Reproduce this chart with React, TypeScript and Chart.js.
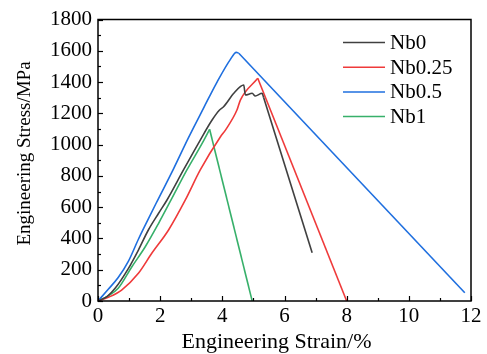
import React, { useEffect, useRef } from "react";
import { Chart, registerables } from "chart.js";

Chart.register(...registerables);

// ---- Data (strain %, stress MPa) ----
const seriesNames = ["Nb0", "Nb0.25", "Nb0.5", "Nb1"];
const seriesColors = ["#404040", "#ef3a3a", "#1f6fdf", "#37b06a"];

const nb0Strain = [0, 0.3, 0.55, 0.98, 1.3, 1.62, 1.95, 2.22, 2.75, 3.29, 3.67, 3.91, 4.04, 4.37, 4.69, 4.74, 4.96, 5.06, 5.28, 5.33, 6.89];
const nb0Stress = [0, 30, 81, 209, 326, 454, 561, 646, 838, 1029, 1157, 1221, 1242, 1328, 1381, 1317, 1328, 1311, 1328, 1300, 309];

const nb025Strain = [0, 0.35, 0.76, 1.3, 1.73, 2.27, 2.81, 3.29, 3.94, 4.1, 4.47, 4.58, 5.14, 8.0];
const nb025Stress = [0, 25, 70, 177, 305, 454, 646, 838, 1050, 1093, 1221, 1285, 1424, 0];

const nb05Strain = [0, 0.33, 0.65, 0.98, 1.3, 1.62, 1.87, 2.43, 2.9, 3.4, 3.83, 4.26, 4.45, 4.53, 11.8];
const nb05Stress = [0, 75, 150, 255, 395, 525, 625, 845, 1040, 1235, 1400, 1545, 1590, 1584, 53];

const nb1Strain = [0, 0.3, 0.65, 1.09, 1.52, 1.95, 2.35, 2.86, 3.35, 3.59, 4.96];
const nb1Stress = [0, 30, 81, 219, 347, 497, 646, 838, 1008, 1098, 0];

const xMin = 0, xMax = 12, xStep = 2, xMinorStep = 1;
const yMin = 0, yMax = 1800, yStep = 200, yMinorStep = 100;
const xTitle = "Engineering Strain/%";
const yTitle = "Engineering Stress/MPa";

const FONT = "'Liberation Serif', 'Times New Roman', serif";
Chart.defaults.font.family = FONT;

function pts(xs: number[], ys: number[]) {
  return xs.map((x, i) => ({ x, y: ys[i] }));
}

const framePlugin = {
  id: "frameTicksLegend",
  afterDraw(chart: any) {
    const { ctx, chartArea } = chart;
    const xs = chart.scales.x;
    const ys = chart.scales.y;
    const { left, right, top, bottom } = chartArea;
    ctx.save();
    ctx.strokeStyle = "#000";
    ctx.lineWidth = 1.5;
    ctx.strokeRect(left, top, right - left, bottom - top);
    ctx.lineWidth = 1.2;
    for (let v = xMin; v <= xMax + 1e-9; v += xMinorStep) {
      const px = Math.round(xs.getPixelForValue(v)) + 0.5;
      const major = Math.abs(v / xStep - Math.round(v / xStep)) < 1e-6;
      const len = major ? 5 : 3;
      ctx.beginPath();
      ctx.moveTo(px, bottom);
      ctx.lineTo(px, bottom - len);
      ctx.stroke();
    }
    for (let v = yMin; v <= yMax + 1e-9; v += yMinorStep) {
      const py = Math.round(ys.getPixelForValue(v)) + 0.5;
      const major = Math.abs(v / yStep - Math.round(v / yStep)) < 1e-6;
      const len = major ? 5 : 3;
      ctx.beginPath();
      ctx.moveTo(left, py);
      ctx.lineTo(left + len, py);
      ctx.stroke();
    }
    // axis titles
    ctx.fillStyle = "#000";
    ctx.textAlign = "center";
    ctx.textBaseline = "alphabetic";
    ctx.font = `22px ${FONT}`;
    ctx.fillText(xTitle, 276.5, 348);
    ctx.save();
    ctx.translate(30, 153.5);
    ctx.rotate(-Math.PI / 2);
    ctx.font = `19px ${FONT}`;
    ctx.fillText(yTitle, 0, 0);
    ctx.restore();
    // legend
    ctx.font = `21px ${FONT}`;
    ctx.textBaseline = "middle";
    ctx.textAlign = "left";
    chart.data.datasets.filter((ds: any) => ds.showInLegend).forEach((ds: any, i: number) => {
      const y = 42.5 + i * 24.7;
      ctx.strokeStyle = ds.borderColor;
      ctx.lineWidth = 1.5;
      ctx.beginPath();
      ctx.moveTo(343, y);
      ctx.lineTo(385, y);
      ctx.stroke();
      ctx.fillStyle = "#000";
      ctx.fillText(ds.label, 390, y + 1);
    });
    ctx.restore();
  },
};

export default function App() {
  const ref = useRef<HTMLCanvasElement | null>(null);
  useEffect(() => {
    if (!ref.current) return;
    const allX = [nb0Strain, nb025Strain, nb05Strain, nb1Strain];
    const allY = [nb0Stress, nb025Stress, nb05Stress, nb1Stress];
    const loading = seriesNames.map((name, i) => ({
      label: name,
      showInLegend: true,
      data: pts(allX[i].slice(0, -1), allY[i].slice(0, -1)),
      borderColor: seriesColors[i],
      backgroundColor: seriesColors[i],
      borderWidth: 1.6,
      pointRadius: 0,
      cubicInterpolationMode: "monotone" as const,
      fill: false,
    }));
    const fracture = seriesNames.map((name, i) => ({
      label: name + " fracture",
      showInLegend: false,
      data: pts(allX[i].slice(-2), allY[i].slice(-2)),
      borderColor: seriesColors[i],
      backgroundColor: seriesColors[i],
      borderWidth: 1.6,
      pointRadius: 0,
      tension: 0,
      fill: false,
    }));
    const chart = new Chart(ref.current, {
      type: "line",
      data: { datasets: [...loading, ...fracture] as any },
      options: {
        animation: false,
        responsive: false,
        maintainAspectRatio: false,
        layout: { padding: { left: 0, right: 16, top: 19.5, bottom: 0 } },
        plugins: { legend: { display: false }, tooltip: { enabled: false } },
        scales: {
          x: {
            type: "linear",
            min: xMin,
            max: xMax,
            grid: { display: false, drawTicks: false },
            border: { display: false },
            ticks: { stepSize: xStep, color: "#000", font: { family: FONT, size: 21 }, padding: 3, maxRotation: 0, callback: (v: any) => String(v) },
            title: { display: false },
            afterFit: (s: any) => { s.height = 53; },
          },
          y: {
            type: "linear",
            min: yMin,
            max: yMax,
            grid: { display: false, drawTicks: false },
            border: { display: false },
            ticks: { stepSize: yStep, color: "#000", font: { family: FONT, size: 21 }, padding: 6, callback: (v: any) => String(v) },
            title: { display: false },
            afterFit: (s: any) => { s.width = 98; },
          },
        },
      },
      plugins: [framePlugin],
    });
    return () => chart.destroy();
  }, []);
  return (
    <div style={{ position: "fixed", left: 0, top: 0, width: 487, height: 354, background: "#fff" }}>
      <canvas ref={ref} width={487} height={354} style={{ display: "block", width: 487, height: 354 }} />
    </div>
  );
}
